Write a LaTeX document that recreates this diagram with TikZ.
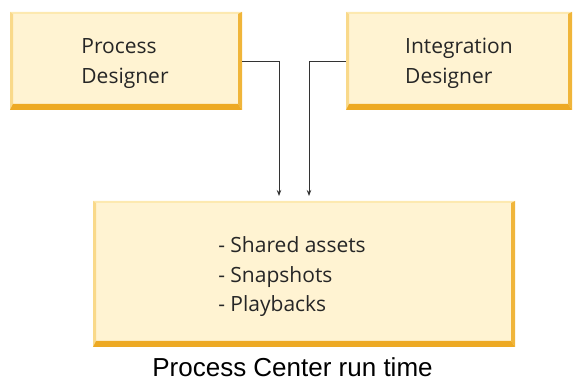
\documentclass[tikz,border=0pt]{standalone}
\usepackage{fontspec}
\setmainfont{Open Sans}
\newfontfamily\capfont{Liberation Sans}
\usetikzlibrary{arrows.meta,calc}
\definecolor{boxfill}{HTML}{FFF3D2}
\definecolor{bevbot}{HTML}{EDA923}
\definecolor{bevright}{HTML}{F0B53A}
\definecolor{bevleft}{HTML}{F9D98A}
\definecolor{bevtop}{HTML}{FDE9B0}
\definecolor{linecol}{HTML}{333333}
\tikzset{
  bevelbox/.style={rectangle, inner sep=0pt, fill=boxfill,
    path picture={
      \coordinate (sw) at (path picture bounding box.south west);
      \coordinate (se) at (path picture bounding box.south east);
      \coordinate (nw) at (path picture bounding box.north west);
      \coordinate (ne) at (path picture bounding box.north east);
      \fill[bevtop] (nw) -- (ne) -- ($(ne)+(-4pt,-2pt)$) -- ($(nw)+(3pt,-2pt)$) -- cycle;
      \fill[bevleft] (nw) -- (sw) -- ($(sw)+(3pt,6pt)$) -- ($(nw)+(3pt,-2pt)$) -- cycle;
      \fill[bevright] (ne) -- (se) -- ($(se)+(-4pt,6pt)$) -- ($(ne)+(-4pt,-2pt)$) -- cycle;
      \fill[bevbot] (sw) -- (se) -- ($(se)+(-4pt,6pt)$) -- ($(sw)+(3pt,6pt)$) -- cycle;
    }},
  listtext/.style={font=\fontsize{21}{29.5}\selectfont, align=left, text=black!85, inner sep=0pt},
  captext/.style={font=\capfont\fontsize{26}{30}\selectfont, text=black, inner sep=0pt, anchor=base},
  conn/.style={draw=linecol, line width=0.8pt, -{Stealth[length=6pt,width=4.5pt]}}
}
\begin{document}
\begin{tikzpicture}[x=1pt,y=1pt]
\useasboundingbox (0,0) rectangle (573,383);
\node[bevelbox, minimum width=232pt, minimum height=98pt] (b1) at (126,322) {};
\node[listtext] (b1txt) at (125,319.5) {Process\\Designer};
\node[bevelbox, minimum width=226pt, minimum height=98pt] (b2) at (459,322) {};
\node[listtext] (b2txt) at (459,319.5) {Integration\\Designer};
\node[bevelbox, minimum width=422pt, minimum height=146pt] (b3) at (304,109) {};
\node[listtext] (b3txt) at (292,106) {- Shared assets\\- Snapshots\\- Playbacks};
\node[captext] (cap) at (292.5,6) {Process Center run time};
\coordinate (t1) at (279,187);
\coordinate (t2) at (309,187);
\draw[conn] (b1.east) -| (t1);
\draw[conn] (b2.west) -| (t2);
\end{tikzpicture}
\end{document}
